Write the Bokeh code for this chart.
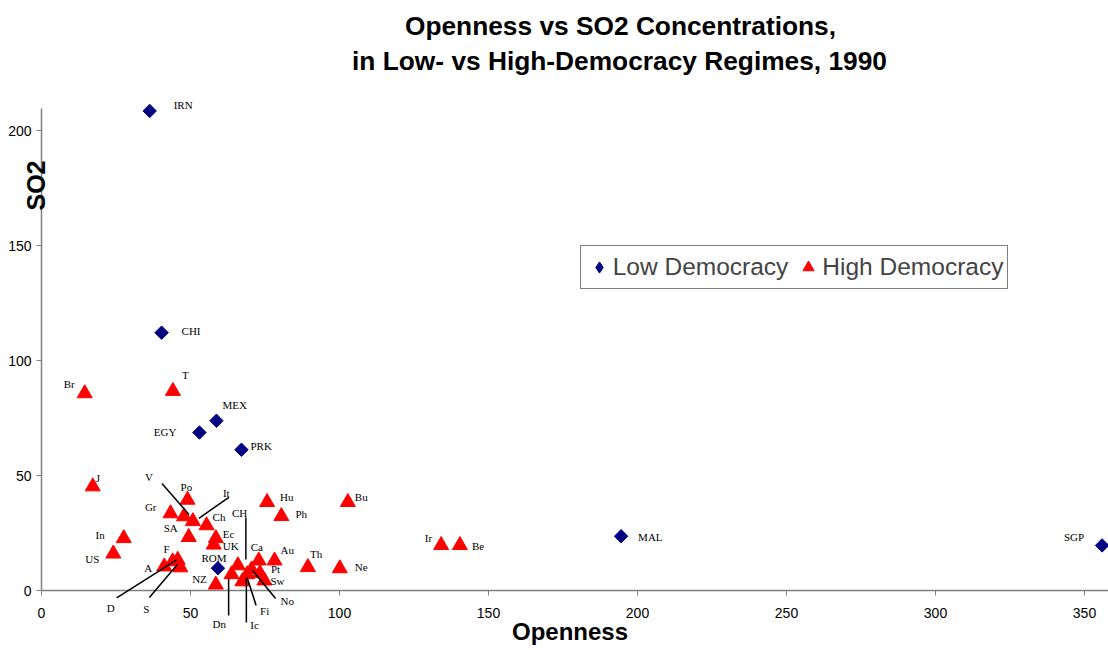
import math
from bokeh.plotting import figure
from bokeh.models import (ColumnDataSource, LabelSet, Label, Arrow, Legend, LegendItem,
                          FixedTicker, Range1d, LinearAxis)
from bokeh.embed import file_html
from bokeh.resources import INLINE

# ---------------- data ----------------
low_names = ["IRN", "CHI", "MEX", "EGY", "PRK", "ROM", "MAL", "SGP"]
low_openness = [36.3, 40.3, 58.7, 53.0, 67.1, 59.2, 194.5, 355.9]
low_so2 = [208.5, 112.1, 73.8, 68.7, 61.2, 9.7, 23.6, 19.6]

high_names = ["Br", "T", "J", "In", "US", "Gr", "Po", "V", "It", "Ch", "SA", "Ec", "UK",
              "F", "A", "D", "S", "NZ", "CH", "Dn", "Ic", "Fi", "No", "Ca", "Au", "Pt",
              "Sw", "Hu", "Ph", "Bu", "Th", "Ne", "Ir", "Be"]
high_openness = [14.5, 44.1, 17.2, 27.6, 24.1, 43.3, 49.0, 47.8, 50.8, 55.4, 49.4, 58.5, 57.8,
                 44.0, 41.2, 45.7, 46.6, 58.5, 65.9, 63.8, 67.4, 69.0, 70.5, 72.9, 78.2, 73.3,
                 74.8, 75.7, 80.5, 102.8, 89.4, 100.1, 134.1, 140.4]
high_so2 = [85.7, 86.7, 45.2, 22.7, 16.0, 33.5, 39.4, 32.2, 30.1, 28.3, 23.2, 22.7, 19.9,
            12.6, 10.4, 13.3, 10.0, 2.5, 10.9, 7.0, 3.9, 7.0, 9.1, 13.0, 13.0, 7.5,
            4.3, 38.4, 32.3, 38.4, 10.1, 9.6, 19.7, 19.7]

x_ticks = [0, 50, 100, 150, 200, 250, 300, 350]
y_ticks = [0, 50, 100, 150, 200]
x_axis_max = 358
y_axis_max = 209.6

title_lines = ["Openness vs SO2 Concentrations,", "in Low- vs High-Democracy Regimes, 1990"]
x_title = "Openness"
y_title = "SO2"
series_names = ["Low Democracy", "High Democracy"]

# ---------------- label placement (screen px: dx right, dy down, alignment) ----------------
label_pos = {
    "IRN": (24, -6, "left"), "CHI": (20, -2, "left"), "MEX": (6, -16, "left"),
    "EGY": (-23, 0, "right"), "PRK": (9, -4, "left"), "ROM": (-4, -10, "center"),
    "MAL": (17, 1, "left"), "SGP": (-18, -8, "right"),
    "Br": (-10, -9, "right"), "T": (9, -16, "left"), "J": (3, -9, "left"),
    "In": (-19, -3, "right"), "US": (-14, 5, "right"), "Gr": (-14, -6, "right"),
    "Po": (-7, -13, "left"), "V": (-39, -39, "left"), "It": (30, -28, "left"),
    "Ch": (6, -8, "left"), "SA": (-11, -9, "right"), "Ec": (7, -4, "left"),
    "UK": (9, 1, "left"), "F": (-9, -13, "left"), "A": (-12, 1, "right"),
    "D": (-71, 48, "left"), "S": (-37, 41, "left"), "NZ": (-9, -6, "right"),
    "CH": (-6, -52, "left"), "Dn": (-19, 50, "left"), "Ic": (8, 43, "left"),
    "Fi": (13, 37, "left"), "No": (29, 31, "left"), "Ca": (-8, -14, "left"),
    "Au": (6, -11, "left"), "Pt": (11, -4, "left"), "Sw": (6, 0, "left"),
    "Hu": (13, -5, "left"), "Ph": (14, -2, "left"), "Bu": (7, -5, "left"),
    "Th": (2, -13, "left"), "Ne": (15, -1, "left"), "Ir": (-9, -7, "right"),
    "Be": (12, 1, "left"),
}
# leader lines: (start offset, end offset) relative to the point, screen px
leaders = {
    "V": ((-22, -33), (5, -2)), "It": ((36, -24), (6, -3)),
    "D": ((-61, 38), (-1, 0)), "S": ((-31, 30), (-3, -3)),
    "CH": ((8, -48), (8, -6)), "Dn": ((-3, 41), (-3, 4)),
    "Ic": ((4, 41), (4, -3)), "Fi": ((9, 31), (0, 3)), "No": ((24, 29), (1, 1)),
}

# ---------------- layout ----------------
W, H = 1108, 650
ORIGIN_X, ORIGIN_Y = 41, 590      # canvas px of the data origin
PX_X, PX_Y = 2.98, 2.3            # px per data unit

x0 = -ORIGIN_X / PX_X
x1 = (W - ORIGIN_X) / PX_X
y0 = -(H - ORIGIN_Y) / PX_Y
y1 = ORIGIN_Y / PX_Y

SANS = "Liberation Sans"
SERIF = "Liberation Serif"

p = figure(width=W, height=H, x_range=Range1d(x0, x1), y_range=Range1d(y0, y1),
           output_backend="svg", toolbar_location=None,
           x_axis_location=None, y_axis_location=None,
           min_border_left=0, min_border_right=0, min_border_top=0, min_border_bottom=0)
p.outline_line_color = None
p.xgrid.visible = False
p.ygrid.visible = False
p.background_fill_color = "white"
p.border_fill_color = "white"

xaxis = LinearAxis(fixed_location=0, bounds=(0, x_axis_max), ticker=FixedTicker(ticks=x_ticks),
                   major_label_standoff=12)
yaxis = LinearAxis(fixed_location=0, bounds=(0, y_axis_max), ticker=FixedTicker(ticks=y_ticks),
                   major_label_standoff=5)
for ax in (xaxis, yaxis):
    ax.axis_line_color = "#808080"
    ax.axis_line_width = 1.5
    ax.major_tick_line_color = "#808080"
    ax.major_tick_out = 5
    ax.major_tick_in = 0
    ax.minor_tick_line_color = None
    ax.major_label_text_font = SANS
    ax.major_label_text_font_size = "14px"
    ax.major_label_text_color = "black"
p.add_layout(xaxis, "below")
p.add_layout(yaxis, "left")

low_src = ColumnDataSource(dict(x=low_openness, y=low_so2, name=low_names))
high_src = ColumnDataSource(dict(x=high_openness, y=high_so2, name=high_names))

p.scatter("x", "y", source=low_src, marker="square", angle=math.pi / 4, size=9.5,
          fill_color="#000080", line_color="#000080")
r_high = p.scatter("x", "y", source=high_src, marker="triangle", size=15,
                   fill_color="#FF0000", line_color="#FF0000")
# legend key for the diamonds: one undrawn (NaN) point so the key has a glyph to show
r_low_key = p.scatter(x=[float("nan")], y=[float("nan")], marker="diamond",
                      fill_color="#000080", line_color="#000080")

# leader lines
ls = dict(xs=[], ys=[], xe=[], ye=[])
for names, xs, ys in ((low_names, low_openness, low_so2), (high_names, high_openness, high_so2)):
    for n, xv, yv in zip(names, xs, ys):
        if n in leaders:
            (sx, sy), (ex, ey) = leaders[n]
            ls["xs"].append(xv + sx / PX_X)
            ls["ys"].append(yv - sy / PX_Y)
            ls["xe"].append(xv + ex / PX_X)
            ls["ye"].append(yv - ey / PX_Y)
p.add_layout(Arrow(end=None, source=ColumnDataSource(ls), x_start="xs", y_start="ys",
                   x_end="xe", y_end="ye", line_color="black", line_width=1.5))

# point labels grouped by alignment
for align in ("left", "right", "center"):
    d = dict(x=[], y=[], name=[], dx=[], dy=[])
    for names, xs, ys in ((low_names, low_openness, low_so2), (high_names, high_openness, high_so2)):
        for n, xv, yv in zip(names, xs, ys):
            dx, dy, al = label_pos[n]
            if al == align:
                d["x"].append(xv); d["y"].append(yv); d["name"].append(n)
                d["dx"].append(dx); d["dy"].append(-dy)
    if d["x"]:
        p.add_layout(LabelSet(x="x", y="y", text="name", x_offset="dx", y_offset="dy",
                              source=ColumnDataSource(d), text_align=align,
                              text_baseline="middle", text_font=SERIF,
                              text_font_size="11px", text_color="black"))

# titles (screen px from the canvas bottom-left)
def screen_label(text, px, py, size, angle=0.0):
    p.add_layout(Label(x=px, y=H - py, x_units="screen", y_units="screen", text=text,
                       angle=angle, text_font=SANS, text_font_style="bold",
                       text_font_size=size, text_align="center", text_baseline="middle",
                       text_color="black"))

screen_label(title_lines[0], 620, 25, "26.3px")
screen_label(title_lines[1], 619, 60, "26.3px")
screen_label(x_title, 569.5, 631, "24px")
screen_label(y_title, 35, 185, "25px", angle=math.pi / 2)

legend = Legend(items=[LegendItem(label=series_names[0], renderers=[r_low_key]),
                       LegendItem(label=series_names[1], renderers=[r_high])],
                location=(579.7, H - 289), orientation="horizontal",
                label_text_font=SANS, label_text_font_size="24.5px",
                glyph_width=28, glyph_height=34, label_standoff=0, spacing=6,
                padding=4, margin=0, border_line_color="black", border_line_width=1,
                background_fill_color="white", background_fill_alpha=1)
p.add_layout(legend)

open("out.html", "w").write(file_html(p, INLINE))
